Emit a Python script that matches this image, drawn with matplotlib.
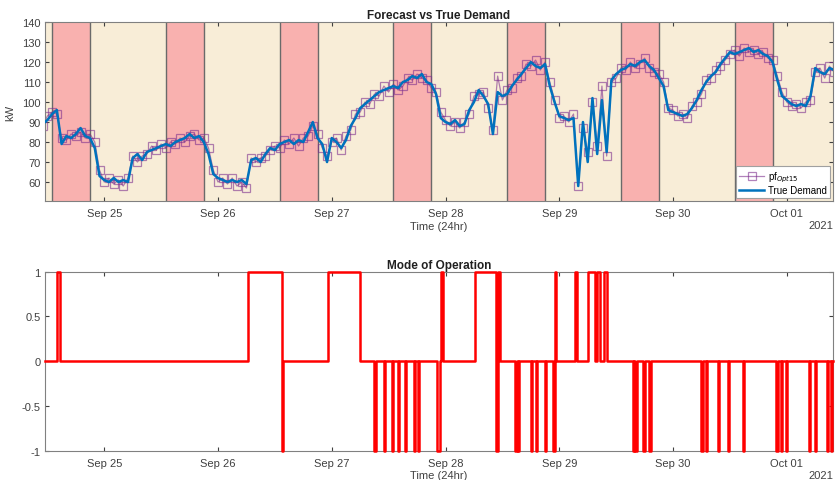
import matplotlib
matplotlib.use("Agg")
import matplotlib.pyplot as plt
import matplotlib.dates as mdates
import pandas as pd

# hourly values starting 2021-09-24 11:00
start = "2021-09-24 11:00"

demand = [
    89, 91, 94, 96, 79, 83, 82, 84, 87, 83, 82, 77, 63,
    61, 60, 62, 60, 61, 60, 72, 74, 71, 75, 76, 77, 78, 79, 78, 80, 81, 82, 84, 82, 83, 80, 74, 64,
    62, 61, 60, 61, 60, 61, 59, 71, 72, 70, 74, 77, 76, 79, 80, 81, 79, 81, 80, 85, 90, 82, 79, 70,
    82, 80, 77, 81, 88, 92, 97, 99, 101, 103, 105, 106, 107, 108, 107, 110, 111, 113, 112, 114, 110, 109, 104, 92,
    90, 89, 91, 88, 89, 96, 100, 106, 103, 99, 84, 105, 103, 104, 108, 111, 114, 117, 120, 118, 117, 119, 108, 100,
    93, 92, 91, 92, 58, 90, 70, 102, 74, 101, 75, 111, 114, 116, 117, 119, 118, 120, 121, 118, 116, 112, 108, 96,
    95, 94, 93, 94, 97, 101, 106, 110, 113, 115, 119, 122, 125, 124, 125, 126, 127, 125, 126, 124, 123, 120, 111, 103,
    101, 99, 98, 99, 98, 103, 117, 115, 114, 117, 116,
]

forecast = [
    88, 93, 95, 94, 82, 81, 84, 83, 85, 82, 84, 80, 66,
    60, 62, 59, 61, 58, 62, 73, 70, 73, 74, 78, 76, 79, 77, 80, 79, 82, 80, 83, 84, 81, 82, 77, 66,
    60, 62, 59, 62, 58, 60, 57, 72, 70, 72, 73, 76, 78, 77, 81, 79, 82, 78, 82, 83, 88, 84, 77, 73,
    80, 82, 76, 83, 86, 94, 95, 100, 99, 104, 103, 108, 105, 109, 106, 108, 112, 111, 114, 112, 111, 107, 105, 95,
    91, 88, 90, 87, 90, 94, 103, 104, 105, 97, 86, 113, 101, 106, 107, 112, 113, 119, 118, 121, 116, 120, 110, 101,
    92, 93, 90, 94, 58, 87, 75, 100, 78, 108, 73, 110, 112, 117, 116, 120, 117, 119, 122, 117, 115, 114, 110, 97,
    96, 93, 94, 92, 98, 100, 104, 111, 112, 116, 118, 121, 124, 126, 123, 127, 125, 126, 124, 125, 122, 121, 113, 105,
    100, 98, 99, 97, 100, 101, 115, 117, 112, 118, 115,
]

# peak windows (red bands)
peak_days = ["2021-09-24", "2021-09-25", "2021-09-26", "2021-09-27",
             "2021-09-28", "2021-09-29", "2021-09-30"]
peak_start = "13:00"
peak_end = "21:00"

# mode of operation: change points (time, new value)
mode_times = [
    "2021-09-24 11:30", "2021-09-24 14:00", "2021-09-24 14:45",
    "2021-09-26 06:15", "2021-09-26 13:30", "2021-09-26 13:45",
    "2021-09-26 23:15", "2021-09-27 06:00",
    "2021-09-27 09:00", "2021-09-27 09:15", "2021-09-27 11:00", "2021-09-27 11:15",
    "2021-09-27 12:45", "2021-09-27 13:00", "2021-09-27 14:00", "2021-09-27 14:15",
    "2021-09-27 15:30", "2021-09-27 15:45", "2021-09-27 17:15", "2021-09-27 17:30",
    "2021-09-27 18:15", "2021-09-27 18:30", "2021-09-27 22:15", "2021-09-27 22:45",
    "2021-09-27 23:00", "2021-09-27 23:30",
    "2021-09-28 06:15", "2021-09-28 10:45", "2021-09-28 11:00", "2021-09-28 11:30",
    "2021-09-28 14:45", "2021-09-28 15:00", "2021-09-28 15:15", "2021-09-28 15:30",
    "2021-09-28 18:00", "2021-09-28 18:15", "2021-09-28 19:00", "2021-09-28 19:15",
    "2021-09-28 21:00", "2021-09-28 21:15", "2021-09-28 22:45", "2021-09-28 23:00",
    "2021-09-28 23:15",
    "2021-09-29 03:15", "2021-09-29 03:45", "2021-09-29 06:00", "2021-09-29 07:30",
    "2021-09-29 08:00", "2021-09-29 08:30", "2021-09-29 09:30", "2021-09-29 10:00",
    "2021-09-29 15:30", "2021-09-29 15:45", "2021-09-29 16:00", "2021-09-29 16:30",
    "2021-09-29 17:45", "2021-09-29 18:00", "2021-09-29 19:00", "2021-09-29 19:15",
    "2021-09-30 06:00", "2021-09-30 06:15", "2021-09-30 07:00", "2021-09-30 07:15",
    "2021-09-30 09:30", "2021-09-30 09:45", "2021-09-30 11:30", "2021-09-30 11:45",
    "2021-09-30 14:45", "2021-09-30 15:00", "2021-09-30 21:45", "2021-09-30 22:15",
    "2021-09-30 22:45", "2021-09-30 23:00", "2021-09-30 23:45", "2021-10-01 00:00",
    "2021-10-01 04:45", "2021-10-01 05:00", "2021-10-01 06:00", "2021-10-01 06:15",
    "2021-10-01 08:30", "2021-10-01 08:45", "2021-10-01 09:15", "2021-10-01 09:30",
    "2021-10-01 09:45",
]
mode_values = [
    0, 1, 0,
    1, -1, 0,
    1, 0,
    -1, 0, -1, 0,
    -1, 0, -1, 0,
    -1, 0, -1, 0,
    -1, 0, -1, 0,
    1, 0,
    1, -1, 1, 0,
    -1, 0, -1, 0,
    -1, 0, -1, 0,
    -1, 0, -1, 1,
    0,
    1, 0, 1, 0,
    1, 0, 1, 0,
    -1, 0, -1, 0,
    -1, 0, -1, 0,
    -1, 0, -1, 0,
    -1, 0, -1, 0,
    -1, 0, -1, 0,
    -1, 0, -1, 0,
    -1, 0, -1, 0,
    -1, 0, -1, 0,
    0,
]

plt.rcParams["font.family"] = ["Liberation Sans", "DejaVu Sans"]
plt.rcParams["font.size"] = 8

txt = "#404040"
beige = "#F8EDD7"
red_band = "#F9B1AF"
purple = "#7E2F8E"
blue = "#0072BD"

times = pd.date_range(start, periods=len(demand), freq="h")
mt = pd.to_datetime(mode_times)
xmin = pd.Timestamp("2021-09-24 11:30")
xmax = pd.Timestamp("2021-10-01 09:45")

fig = plt.figure(figsize=(8.35, 4.81), dpi=100)
ax1 = fig.add_axes([0.0539, 0.580, 0.9437, 0.372])
ax2 = fig.add_axes([0.0539, 0.061, 0.9437, 0.372])

# top: forecast vs demand
ax1.set_facecolor(beige)
for d in peak_days:
    t0 = pd.Timestamp(d + " " + peak_start)
    t1 = pd.Timestamp(d + " " + peak_end)
    ax1.axvspan(t0, t1, color=red_band, lw=0, zorder=0)
    ax1.axvline(t0, color="#6a6a6a", lw=1.0, zorder=1)
    ax1.axvline(t1, color="#6a6a6a", lw=1.0, zorder=1)

ax1.plot(times, forecast, color=purple, lw=0.9, alpha=0.6,
         marker="s", markersize=5.5, markerfacecolor="none",
         markeredgewidth=0.9, label="pf$_{Opt15}$", zorder=2)
ax1.plot(times, demand, color=blue, lw=1.8, label="True Demand", zorder=3)

ax1.set_ylim(50.5, 140)
ax1.set_yticks([60, 70, 80, 90, 100, 110, 120, 130, 140])
ax1.set_ylabel("kW", color=txt, labelpad=5)
ax1.set_title("Forecast vs True Demand", fontsize=8.5, fontweight="bold",
              color="#202020", pad=3)
leg = ax1.legend(loc="lower right", fontsize=7, frameon=True, fancybox=False,
                 edgecolor="#a0a0a0", framealpha=1, borderpad=0.3,
                 handlelength=2.6, handletextpad=0.4, labelspacing=0.15,
                 borderaxespad=0.3)
leg.get_frame().set_linewidth(0.8)

# bottom: mode of operation
ax2.plot(mt, mode_values, color="#FF0000", lw=1.8, drawstyle="steps-post",
         clip_on=False, zorder=5)
ax2.set_ylim(-1, 1)
ax2.set_yticks([-1, -0.5, 0, 0.5, 1])
ax2.set_yticklabels(["-1", "-0.5", "0", "0.5", "1"])
ax2.set_title("Mode of Operation", fontsize=8.5, fontweight="bold",
              color="#202020", pad=3)

for ax in (ax1, ax2):
    ax.set_xlim(xmin, xmax)
    ax.xaxis.set_major_locator(mdates.DayLocator())
    ax.xaxis.set_major_formatter(mdates.DateFormatter("%b %d"))
    ax.tick_params(direction="in", length=3, width=0.8, top=True, right=True,
                   colors="#404040", labelcolor=txt, labelsize=8, pad=5)
    ax.tick_params(axis="y", pad=3)
    for s in ax.spines.values():
        s.set_color("#808080")
        s.set_linewidth(0.8)
    ax.set_xlabel("Time (24hr)", color=txt, labelpad=2)
    ax.text(1.0, -0.135, "2021", transform=ax.transAxes, ha="right",
            va="center", color=txt, fontsize=8)

fig.savefig("out.png", dpi=100)
